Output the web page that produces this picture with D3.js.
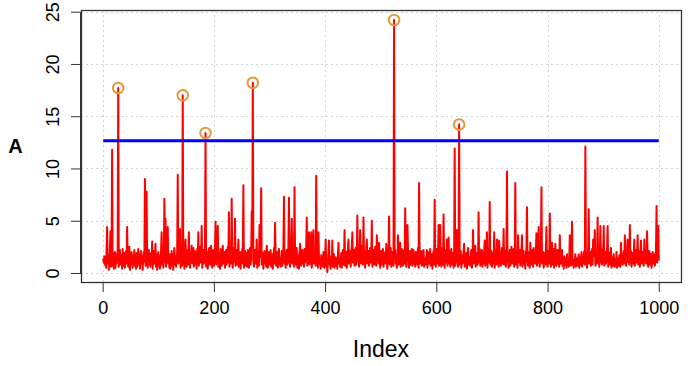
<!DOCTYPE html>
<html><head><meta charset="utf-8">
<script src="https://cdn.jsdelivr.net/npm/d3@7"></script>
<style>body{margin:0;background:#fff}svg{display:block}text{font-family:"Liberation Sans",Arial,sans-serif}</style>
</head><body>
<svg id="c" width="696" height="366"></svg>
<script>
// Series A (index 1..1000)
const valuesA = [
1.4,1.0,1.6,0.8,1.2,0.5,2.1,4.4,0.9,1.7,0.3,1.1,2.3,4.0,0.6,1.5,11.8,0.7,1.9,0.4,
1.3,2.0,0.5,1.8,0.9,1.2,2.4,17.7,0.6,1.5,2.2,0.8,1.0,1.7,0.4,2.3,1.1,0.7,1.9,0.5,
1.6,2.1,0.9,4.4,1.2,0.6,1.8,2.5,0.3,1.4,0.8,2.0,1.1,0.5,1.7,1.3,2.2,0.7,1.0,0.4,
1.9,0.6,1.5,2.3,0.8,1.2,0.4,1.8,2.1,0.9,1.4,0.3,1.6,2.0,1.1,9.0,0.7,1.3,7.8,1.0,
0.5,1.7,2.2,0.8,1.4,0.6,1.9,1.1,3.0,0.4,1.5,2.1,0.9,1.3,2.8,0.6,1.8,0.3,1.2,2.0,
0.7,1.6,0.4,1.1,2.2,3.9,0.8,1.4,0.5,1.9,7.1,1.0,5.2,0.6,1.7,2.3,4.4,0.9,1.3,0.5,
1.8,0.4,1.2,2.1,0.7,1.5,0.3,1.9,2.4,0.8,1.1,0.6,1.6,2.0,9.4,0.9,1.4,2.2,4.2,0.5,
1.2,2.3,0.7,17.0,1.0,1.8,0.4,2.5,3.2,1.3,0.6,1.9,2.2,0.8,3.9,1.5,0.5,2.0,1.1,2.6,
0.9,1.7,2.4,0.6,1.3,2.1,0.8,1.6,0.4,2.3,1.2,3.9,0.7,1.9,2.5,1.0,1.4,4.5,0.5,1.8,
2.2,0.9,1.5,2.7,13.4,0.6,1.2,2.0,0.4,1.7,2.3,2.4,0.8,1.4,2.6,1.0,0.5,1.9,2.2,0.7,
1.3,2.4,4.9,0.8,1.6,2.1,4.5,0.6,1.1,1.9,0.4,2.3,1.4,0.7,1.8,2.6,0.9,1.2,2.0,0.5,
1.6,2.2,0.8,1.3,2.5,1.0,5.8,0.6,1.7,2.1,0.9,7.1,1.4,0.5,1.9,2.4,1.1,5.2,0.7,1.5,
2.2,0.8,1.3,3.2,0.6,1.8,2.0,0.4,1.1,1.6,2.3,0.9,8.4,0.5,1.4,2.1,0.7,1.2,1.9,0.6,
2.2,1.0,0.5,1.7,2.4,0.8,1.3,5.9,2.6,18.2,1.1,0.6,1.8,2.2,0.9,1.4,3.2,0.5,2.0,1.2,
0.7,4.6,1.5,2.3,8.1,0.8,1.2,1.9,0.4,1.6,2.1,0.9,1.3,0.6,2.6,1.8,0.5,1.1,2.0,0.8,
1.5,2.2,0.6,1.0,1.8,0.4,1.3,2.4,0.9,4.8,1.6,0.7,1.2,2.0,0.5,1.9,2.3,0.8,1.4,0.6,
1.1,2.1,0.7,1.6,2.5,7.3,0.9,1.4,0.5,1.8,2.2,0.8,1.2,2.6,7.2,1.0,0.6,1.7,2.3,5.2,
0.9,1.5,2.1,0.6,8.2,1.3,0.8,1.9,2.4,0.5,1.2,1.7,0.4,2.0,2.8,1.1,0.7,1.6,2.2,0.9,
1.4,0.6,2.3,1.0,1.8,2.5,5.3,0.7,1.2,1.9,3.9,0.8,1.5,2.1,3.9,0.5,1.3,2.4,4.1,0.9,
1.6,2.2,0.7,9.3,1.1,1.8,0.5,3.9,1.4,0.8,1.2,0.4,1.7,0.9,1.5,0.6,2.0,1.0,0.5,1.3,
3.2,0.7,1.4,0.1,1.1,1.9,3.1,0.8,1.2,0.4,1.6,0.9,3.1,0.6,1.3,1.8,0.5,1.0,1.5,0.7,
1.2,0.4,1.7,2.9,0.9,1.4,0.6,1.1,1.9,0.5,1.3,2.2,0.8,1.6,4.1,0.7,1.2,2.0,0.5,1.5,
2.3,3.2,0.9,1.4,2.1,0.6,1.8,2.5,3.9,1.0,1.6,2.2,0.7,1.3,2.4,0.8,1.9,5.5,1.1,2.0,
0.6,1.5,4.1,2.2,0.9,1.7,2.6,0.8,5.3,1.2,2.0,0.5,1.4,2.3,3.2,0.9,1.6,2.1,0.7,1.8,
2.4,1.0,1.5,5.0,0.6,1.9,2.2,0.8,1.3,2.5,1.1,0.7,3.6,1.6,2.0,0.9,2.9,1.4,0.5,1.8,
2.1,0.8,1.3,2.3,0.6,1.7,1.1,2.0,0.9,2.8,1.5,0.4,1.9,2.2,5.4,0.8,1.2,2.4,0.6,1.6,
2.0,1.0,0.7,24.2,1.4,2.2,0.9,1.7,0.5,1.3,3.6,2.1,0.8,1.5,2.9,0.6,1.9,2.3,1.1,0.7,
1.6,2.2,0.9,6.2,1.3,0.6,1.8,4.6,2.4,1.0,0.5,1.7,2.1,0.8,1.4,2.3,0.7,1.2,2.2,0.9,
1.5,0.6,2.0,1.1,0.8,1.8,2.4,0.5,8.6,1.3,0.9,1.6,2.1,0.7,1.2,1.9,2.2,0.6,1.4,1.0,
0.8,1.7,2.2,0.5,1.3,2.0,0.9,1.5,2.3,0.7,1.1,1.8,0.4,1.6,2.1,0.8,7.0,1.2,0.6,1.9,
2.3,0.9,1.4,4.6,0.7,2.0,4.6,1.1,0.6,1.7,2.4,0.8,5.6,1.3,0.5,1.9,2.2,1.0,3.2,0.7,
1.5,3.4,0.9,2.1,0.6,1.6,2.3,0.8,1.2,1.9,0.5,1.4,11.9,0.7,1.8,2.2,4.1,1.0,0.6,1.5,
14.2,0.8,1.3,2.1,0.5,1.7,0.9,1.2,2.0,2.8,0.6,1.5,1.0,1.9,0.4,1.3,2.4,0.8,1.6,1.1,
0.7,1.8,2.2,0.5,1.4,4.1,0.9,1.6,2.0,2.6,0.6,1.2,1.9,0.8,1.5,5.8,1.0,2.3,0.7,1.3,
1.8,2.2,0.6,1.4,0.9,2.0,3.1,0.7,1.5,1.2,3.9,0.5,1.7,2.3,1.0,6.8,0.8,1.6,2.1,0.6,
1.3,1.9,0.9,3.9,0.5,1.6,2.2,0.8,3.2,1.1,1.8,0.6,3.1,1.4,2.0,0.7,1.2,2.4,0.9,1.5,
4.2,0.8,1.7,2.1,0.6,1.3,9.7,1.0,1.9,0.5,1.5,2.2,0.7,1.2,2.5,1.8,0.9,1.4,2.3,0.6,
1.6,8.6,0.8,1.2,2.0,0.5,3.6,1.7,1.0,2.2,0.7,1.4,1.9,3.6,0.6,1.3,2.1,0.9,1.5,0.4,
1.8,2.3,6.3,1.1,0.7,1.6,2.0,0.5,2.9,1.3,0.8,1.9,2.2,0.6,2.4,1.2,1.7,0.9,2.1,3.8,
0.7,1.4,2.2,4.4,1.0,0.6,1.8,2.3,8.2,0.9,1.5,2.0,0.5,1.3,1.9,0.8,2.2,4.4,1.1,0.6,
1.7,2.1,0.9,5.7,1.4,0.6,1.9,2.9,0.8,1.2,2.3,0.5,1.6,2.8,1.0,0.7,1.8,2.2,0.9,1.3,
0.6,3.6,1.5,0.9,1.9,2.2,0.7,1.2,0.4,1.6,1.0,0.8,1.4,0.5,1.8,0.9,1.3,0.6,1.1,3.6,
1.0,0.7,1.5,4.9,0.8,1.3,0.5,1.1,0.9,1.8,0.6,1.4,1.0,0.7,1.2,1.8,0.5,1.5,0.8,1.1,
2.0,0.6,1.4,0.9,1.7,2.1,0.8,12.1,1.2,1.9,0.5,1.6,2.2,6.1,0.9,1.3,2.0,0.7,1.5,2.3,
0.8,3.2,1.6,2.1,4.1,0.7,1.4,1.9,0.9,5.3,1.2,2.2,0.6,1.7,4.5,1.0,2.3,0.8,1.5,1.9,
4.5,0.7,1.3,2.0,0.9,1.6,2.2,4.5,0.6,1.4,1.9,0.8,1.2,2.4,0.5,1.5,1.0,0.7,1.8,1.1,
0.6,1.3,0.9,2.0,0.5,1.4,1.1,0.7,1.7,1.0,0.6,2.9,1.2,1.8,0.8,1.5,2.1,0.9,3.6,1.3,
0.7,1.9,2.2,3.2,1.0,1.6,0.8,4.6,1.4,2.1,0.6,1.3,1.9,0.9,1.7,3.2,0.7,1.5,2.2,1.0,
1.8,3.6,0.8,1.4,2.1,0.6,1.7,3.1,1.2,0.9,2.0,1.5,0.7,3.2,1.3,2.2,0.9,1.6,4.0,1.1,
0.6,1.4,2.1,0.8,1.7,1.8,0.5,1.2,2.0,0.9,1.5,1.8,0.7,1.3,2.2,6.4,1.0,1.6,4.5,1.2
];
const threshold = 12.65;
const xTicks = [0, 200, 400, 600, 800, 1000];
const yTicks = [0, 5, 10, 15, 20, 25];
const xLabel = "Index";
const yLabel = "A";

const svg = d3.select("#c");
const L = 81, R = 681, T = 10, B = 282;
const n = valuesA.length;
const padX = (n - 1) * 0.04;
const x = d3.scaleLinear().domain([1 - padX, n + padX]).range([L, R]);
const ext = d3.extent(valuesA);
const padY = (ext[1] - ext[0]) * 0.04;
const y = d3.scaleLinear().domain([ext[0] - padY, ext[1] + padY]).range([B, T]);

// grid
const grid = svg.append("g").attr("stroke", "#d3d3d3").attr("stroke-width", 1).attr("stroke-dasharray", "2,3");
grid.selectAll("line.v").data(xTicks).join("line")
  .attr("x1", d => Math.round(x(d)) + 0.5).attr("x2", d => Math.round(x(d)) + 0.5)
  .attr("y1", T).attr("y2", B);
grid.selectAll("line.h").data(yTicks).join("line")
  .attr("y1", d => Math.round(y(d)) + 0.5).attr("y2", d => Math.round(y(d)) + 0.5)
  .attr("x1", L).attr("x2", R);

// series
const line = d3.line().x((d, i) => x(i + 1)).y(d => y(d));
svg.append("path").datum(valuesA).attr("d", line)
  .attr("fill", "none").attr("stroke", "#ff0000").attr("stroke-width", 2).attr("stroke-linejoin", "round");

// threshold
svg.append("line").attr("x1", x(1)).attr("x2", x(n)).attr("y1", y(threshold)).attr("y2", y(threshold))
  .attr("stroke", "#0000ff").attr("stroke-width", 3);

// exceedances
const pts = valuesA.map((v, i) => ({ i: i + 1, v })).filter(d => d.v > threshold);
svg.append("g").selectAll("circle").data(pts).join("circle")
  .attr("cx", d => x(d.i)).attr("cy", d => y(d.v)).attr("r", 5.3)
  .attr("fill", "none").attr("stroke", "#e39a3b").attr("stroke-width", 2);

// box
svg.append("rect").attr("x", L + 0.5).attr("y", T + 0.5).attr("width", R - L).attr("height", B - T)
  .attr("fill", "none").attr("stroke", "#333").attr("stroke-width", 1.3);

// x axis
const xa = svg.append("g").attr("transform", `translate(0,${B})`)
  .call(d3.axisBottom(x).tickValues(xTicks).tickFormat(d3.format("d")).tickSize(10).tickSizeOuter(0).tickPadding(9));
xa.select(".domain").attr("d", `M${Math.round(x(0))+0.5},0.5H${Math.round(x(1000))+0.5}`).attr("stroke", "#333");
xa.selectAll(".tick line").attr("stroke", "#333");
xa.selectAll(".tick text").attr("font-size", 18).attr("fill", "#000").attr("dy", "0.72em")
  .attr("font-family", "Liberation Sans, Arial, sans-serif");

// y axis
const ya = svg.append("g").attr("transform", `translate(${L},0)`)
  .call(d3.axisLeft(y).tickValues(yTicks).tickFormat(d3.format("d")).tickSize(10).tickSizeOuter(0));
ya.select(".domain").attr("d", `M-0.5,${Math.round(y(0))+0.5}V${Math.round(y(25))+0.5}`).attr("stroke", "#333");
ya.selectAll(".tick line").attr("stroke", "#333");
ya.selectAll(".tick text").attr("font-size", 18).attr("fill", "#000")
  .attr("font-family", "Liberation Sans, Arial, sans-serif")
  .attr("text-anchor", "middle").attr("x", 0).attr("dy", 0)
  .attr("transform", `translate(${58.5 - L},0) rotate(-90)`);

// labels
svg.append("text").attr("x", 381).attr("y", 357).attr("text-anchor", "middle")
  .attr("font-size", 23).text(xLabel);
svg.append("text").attr("x", 15.5).attr("y", 152.5).attr("text-anchor", "middle")
  .attr("font-size", 20).attr("font-weight", "bold").text(yLabel);
</script>
</body></html>
